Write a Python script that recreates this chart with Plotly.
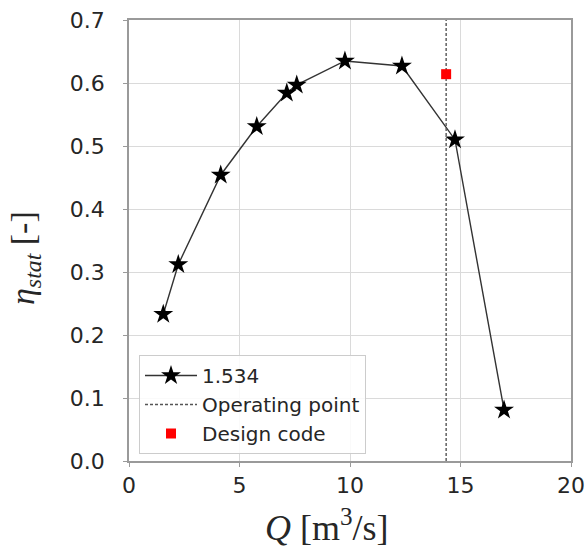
import plotly.graph_objects as go

# Data
q_vals = [1.55, 2.23, 4.15, 5.78, 7.14, 7.59, 9.77, 12.35, 14.75, 16.97]
eta_vals = [0.233, 0.312, 0.454, 0.531, 0.584, 0.597, 0.635, 0.627, 0.510, 0.081]
series_name = "1.534"
op_q = 14.35
op_y = [0.0, 0.7]
design_q = [14.35]
design_eta = [0.614]
x_ticks = [0, 5, 10, 15, 20]
y_ticks = [0.0, 0.1, 0.2, 0.3, 0.4, 0.5, 0.6, 0.7]

fig = go.Figure()
fig.add_trace(go.Scatter(
    x=q_vals, y=eta_vals, mode="lines+markers", name=series_name,
    line=dict(color="#333333", width=1.4),
    marker=dict(symbol="star", size=15, color="black", line=dict(width=0)),
    legendgroup="a",
))
fig.add_trace(go.Scatter(
    x=[op_q, op_q], y=op_y, mode="lines", name="Operating point",
    line=dict(color="#555555", width=1.4, dash="3px,2px"),
    legendgroup="b",
))
fig.add_trace(go.Scatter(
    x=design_q, y=design_eta, mode="markers", name="Design code",
    marker=dict(symbol="square", size=10, color="#ff0000", line=dict(width=0)),
    legendgroup="c",
))

axis_common = dict(
    showgrid=True, gridcolor="#dadada", gridwidth=1,
    showline=True, linecolor="#9a9a9a", linewidth=1.5, mirror=True,
    ticks="outside", ticklen=4, tickcolor="#9a9a9a",
    tickfont=dict(family="DejaVu Sans", size=22, color="#262626"),
    zeroline=False, automargin=False,
)

fig.update_xaxes(range=[0, 20], tickvals=x_ticks, ticktext=[str(v) for v in x_ticks],
                 **axis_common)
fig.update_yaxes(range=[0, 0.7], tickvals=y_ticks, ticktext=[f"{v:.1f}" for v in y_ticks],
                 ticklabelstandoff=14, **axis_common)

fig.add_annotation(
    text="<i>Q</i> [m<sup>3</sup>/s]", xref="paper", yref="paper",
    x=(327 - 129) / 442, y=(461 - 525) / 441, xanchor="center", yanchor="middle",
    showarrow=False, font=dict(family="Liberation Serif", size=36, color="#262626"),
)
fig.add_annotation(
    text="<i>η<sub>stat</sub></i> [-]", xref="paper", yref="paper",
    x=(25 - 129) / 442, y=(461 - 258) / 441, xanchor="center", yanchor="middle",
    textangle=-90,
    showarrow=False, font=dict(family="Liberation Serif", size=34, color="#262626"),
)

fig.update_layout(
    width=586, height=556,
    margin=dict(l=129, r=15, t=20, b=95),
    plot_bgcolor="white", paper_bgcolor="white",
    showlegend=True,
    legend=dict(
        x=(139 - 129) / 442, y=(461 - 355) / 441, xanchor="left", yanchor="top",
        bgcolor="rgba(255,255,255,0.85)", bordercolor="#cccccc", borderwidth=1,
        font=dict(family="DejaVu Sans", size=20, color="#262626"),
        traceorder="grouped", tracegroupgap=0, itemwidth=52,
    ),
)

fig.write_html("out.html")
